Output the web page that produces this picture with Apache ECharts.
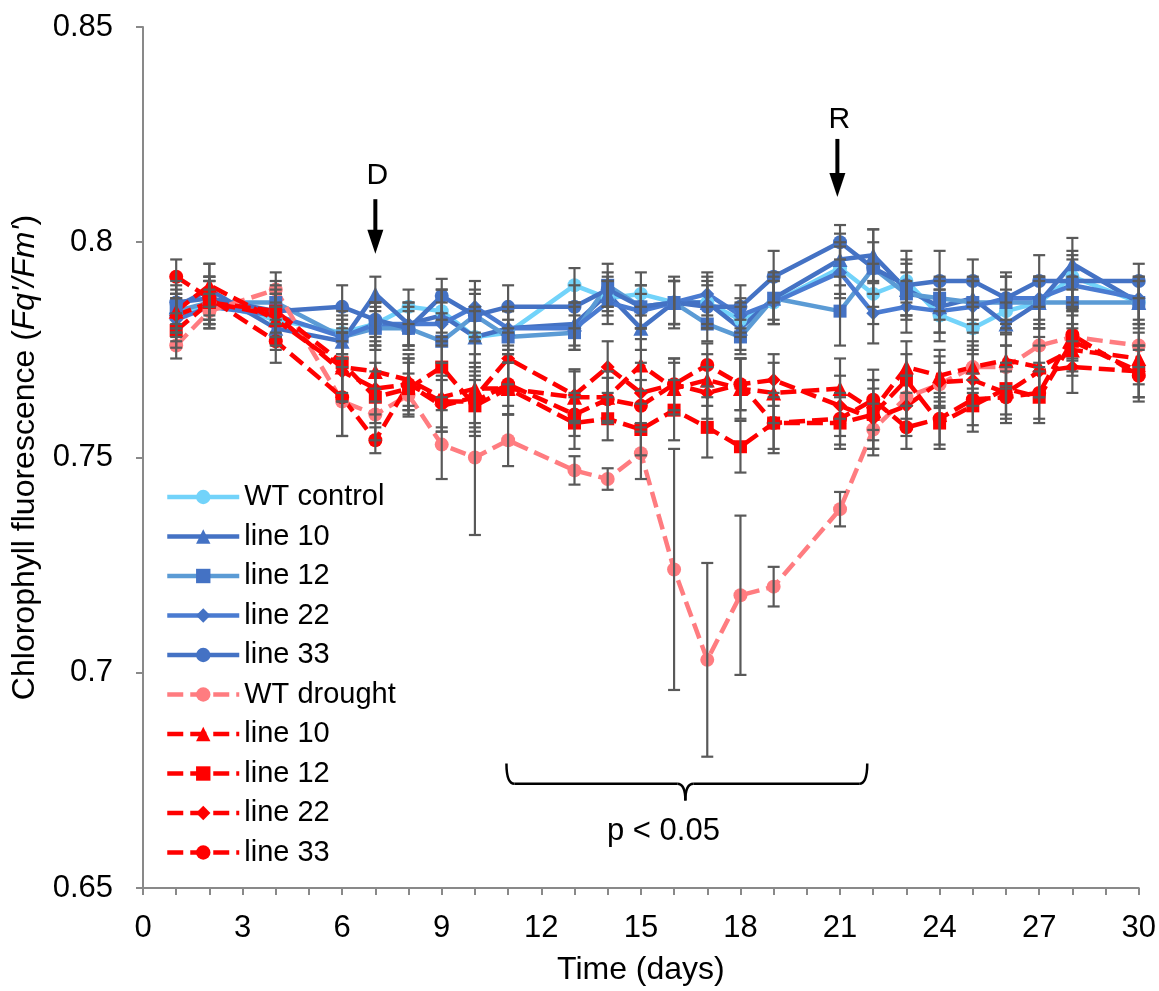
<!DOCTYPE html>
<html>
<head>
<meta charset="utf-8">
<script src="https://cdn.jsdelivr.net/npm/echarts@6/dist/echarts.min.js"></script>
<style>
  html, body { margin: 0; padding: 0; background: #fff; }
  #chart { width: 1159px; height: 991px; }
</style>
</head>
<body>
<div id="chart"></div>
<script>
const days = [1, 2, 4, 6, 7, 8, 9, 10, 11, 13, 14, 15, 16, 17, 18, 19, 21, 22, 23, 24, 25, 26, 27, 28, 30];

// control (solid blue lines)
const wtControl = [0.783, 0.786, 0.782, 0.779, 0.781, 0.785, 0.784, 0.778, 0.779, 0.790, 0.787, 0.788, 0.786, 0.786, 0.782, 0.786, 0.794, 0.788, 0.791, 0.783, 0.780, 0.784, 0.786, 0.792, 0.786];
const c10 = [0.785, 0.789, 0.780, 0.777, 0.788, 0.781, 0.783, 0.778, 0.780, 0.781, 0.788, 0.780, 0.786, 0.786, 0.780, 0.787, 0.796, 0.797, 0.789, 0.785, 0.787, 0.781, 0.786, 0.795, 0.786];
const c12 = [0.784, 0.786, 0.786, 0.778, 0.780, 0.780, 0.777, 0.783, 0.778, 0.779, 0.790, 0.785, 0.786, 0.781, 0.778, 0.787, 0.784, 0.794, 0.788, 0.787, 0.786, 0.786, 0.786, 0.786, 0.786];
const c22 = [0.782, 0.785, 0.783, 0.778, 0.781, 0.781, 0.781, 0.785, 0.780, 0.780, 0.786, 0.784, 0.786, 0.788, 0.783, 0.786, 0.793, 0.7835, 0.785, 0.784, 0.785, 0.787, 0.787, 0.790, 0.787];
const c33 = [0.786, 0.787, 0.784, 0.785, 0.782, 0.780, 0.7875, 0.783, 0.785, 0.785, 0.789, 0.785, 0.786, 0.785, 0.785, 0.792, 0.800, 0.794, 0.790, 0.791, 0.791, 0.787, 0.791, 0.791, 0.791];

// drought (dashed red lines)
const wtDrought = [0.776, 0.784, 0.789, 0.763, 0.760, 0.7645, 0.753, 0.750, 0.754, 0.747, 0.745, 0.751, 0.724, 0.703, 0.718, 0.720, 0.738, 0.7565, 0.764, 0.767, 0.771, 0.771, 0.776, 0.778, 0.776];
const d10 = [0.784, 0.790, 0.782, 0.771, 0.770, 0.768, 0.764, 0.766, 0.766, 0.764, 0.764, 0.7715, 0.766, 0.768, 0.766, 0.765, 0.766, 0.761, 0.771, 0.769, 0.771, 0.7726, 0.771, 0.775, 0.773];
const d12 = [0.7795, 0.786, 0.784, 0.772, 0.764, 0.766, 0.771, 0.762, 0.766, 0.758, 0.759, 0.7565, 0.761, 0.757, 0.7525, 0.758, 0.758, 0.760, 0.768, 0.758, 0.762, 0.766, 0.764, 0.777, 0.770];
const d22 = [0.783, 0.786, 0.783, 0.770, 0.766, 0.767, 0.762, 0.764, 0.773, 0.7645, 0.771, 0.765, 0.767, 0.765, 0.767, 0.768, 0.762, 0.759, 0.762, 0.7675, 0.768, 0.765, 0.770, 0.771, 0.770];
const d33 = [0.792, 0.787, 0.777, 0.764, 0.754, 0.767, 0.763, 0.763, 0.767, 0.760, 0.7635, 0.762, 0.767, 0.7715, 0.767, 0.758, 0.759, 0.7634, 0.757, 0.759, 0.7635, 0.764, 0.765, 0.7785, 0.769];

// error bars (+/-)
const eWTc = [0.004, 0.005, 0.004, 0.005, 0.005, 0.004, 0.005, 0.006, 0.005, 0.004, 0.004, 0.005, 0.005, 0.005, 0.004, 0.005, 0.006, 0.007, 0.005, 0.006, 0.005, 0.005, 0.006, 0.006, 0.005];
const eC10 = [0.005, 0.006, 0.005, 0.004, 0.004, 0.005, 0.006, 0.007, 0.005, 0.005, 0.004, 0.005, 0.006, 0.006, 0.005, 0.006, 0.006, 0.006, 0.006, 0.006, 0.005, 0.005, 0.005, 0.006, 0.005];
const eC12 = [0.004, 0.005, 0.005, 0.005, 0.005, 0.004, 0.005, 0.005, 0.004, 0.004, 0.005, 0.005, 0.005, 0.004, 0.004, 0.005, 0.008, 0.006, 0.005, 0.005, 0.005, 0.006, 0.006, 0.006, 0.006];
const eC22 = [0.005, 0.004, 0.005, 0.004, 0.005, 0.005, 0.005, 0.006, 0.004, 0.005, 0.005, 0.004, 0.005, 0.005, 0.004, 0.005, 0.006, 0.007, 0.006, 0.005, 0.006, 0.005, 0.005, 0.006, 0.005];
const eC33 = [0.005, 0.005, 0.005, 0.005, 0.004, 0.005, 0.004, 0.006, 0.005, 0.005, 0.004, 0.005, 0.005, 0.005, 0.005, 0.006, 0.004, 0.009, 0.008, 0.007, 0.005, 0.006, 0.006, 0.006, 0.004];
const eWTd = [0.003, 0.004, 0.004, 0.008, 0.006, 0.005, 0.008, 0.018, 0.006, 0.0033, 0.0025, 0.006, 0.028, 0.0225, 0.0185, 0.0046, 0.004, 0.006, 0.005, 0.005, 0.005, 0.005, 0.004, 0.005, 0.005];
const eD10 = [0.005, 0.005, 0.006, 0.008, 0.007, 0.006, 0.008, 0.008, 0.006, 0.006, 0.006, 0.006, 0.006, 0.006, 0.007, 0.007, 0.007, 0.007, 0.006, 0.006, 0.006, 0.006, 0.007, 0.006, 0.006];
const eD12 = [0.004, 0.005, 0.006, 0.007, 0.006, 0.006, 0.007, 0.007, 0.006, 0.006, 0.005, 0.006, 0.007, 0.007, 0.006, 0.007, 0.006, 0.008, 0.006, 0.006, 0.006, 0.006, 0.006, 0.007, 0.006];
const eD22 = [0.005, 0.006, 0.005, 0.007, 0.006, 0.006, 0.006, 0.007, 0.006, 0.006, 0.006, 0.007, 0.006, 0.006, 0.006, 0.006, 0.007, 0.007, 0.007, 0.006, 0.006, 0.006, 0.006, 0.006, 0.006];
const eD33 = [0.004, 0.005, 0.005, 0.009, 0.003, 0.006, 0.006, 0.007, 0.005, 0.005, 0.005, 0.006, 0.006, 0.005, 0.006, 0.006, 0.006, 0.007, 0.005, 0.006, 0.006, 0.006, 0.006, 0.006, 0.006];

const FONT = '"Liberation Sans", Arial, sans-serif';
const DASH = [16, 7];

const groups = [
  { name: 'WT control', vals: wtControl, err: eWTc, line: '#72D3FA', mark: '#72D3FA', symbol: 'circle', size: 14, dash: 'solid' },
  { name: 'line 10', vals: c10, err: eC10, line: '#4472C4', mark: '#4472C4', symbol: 'triangle', size: 15, dash: 'solid' },
  { name: 'line 12', vals: c12, err: eC12, line: '#5B9BD5', mark: '#4472C4', symbol: 'rect', size: 13, dash: 'solid' },
  { name: 'line 22', vals: c22, err: eC22, line: '#4A7BD1', mark: '#4472C4', symbol: 'diamond', size: 14, dash: 'solid' },
  { name: 'line 33', vals: c33, err: eC33, line: '#4472C4', mark: '#4472C4', symbol: 'circle', size: 14, dash: 'solid' },
  // trailing spaces keep legend names unique; the formatter trims them
  { name: 'WT drought ', vals: wtDrought, err: eWTd, line: '#FF7C80', mark: '#FF7C80', symbol: 'circle', size: 14, dash: DASH },
  { name: 'line 10 ', vals: d10, err: eD10, line: '#FF0000', mark: '#FF0000', symbol: 'triangle', size: 15, dash: DASH },
  { name: 'line 12 ', vals: d12, err: eD12, line: '#FF0000', mark: '#FF0000', symbol: 'rect', size: 13, dash: DASH },
  { name: 'line 22 ', vals: d22, err: eD22, line: '#FF0000', mark: '#FF0000', symbol: 'diamond', size: 14, dash: DASH },
  { name: 'line 33 ', vals: d33, err: eD33, line: '#FF0000', mark: '#FF0000', symbol: 'circle', size: 14, dash: DASH }
];

function renderErr(params, api) {
  const x = api.value(0);
  const lo = api.coord([x, api.value(1)]);
  const hi = api.coord([x, api.value(2)]);
  const w = 6;
  const st = { stroke: '#595959', lineWidth: 2.2 };
  return {
    type: 'group',
    children: [
      { type: 'line', shape: { x1: hi[0], y1: hi[1], x2: lo[0], y2: lo[1] }, style: st },
      { type: 'line', shape: { x1: hi[0] - w, y1: hi[1], x2: hi[0] + w, y2: hi[1] }, style: st },
      { type: 'line', shape: { x1: lo[0] - w, y1: lo[1], x2: lo[0] + w, y2: lo[1] }, style: st }
    ]
  };
}

const series = [];
groups.forEach(g => {
  series.push({
    name: g.name,
    type: 'line',
    data: days.map((d, i) => [d, g.vals[i]]),
    symbol: g.symbol,
    symbolSize: g.size,
    showAllSymbol: true,
    lineStyle: { color: g.line, width: 4.5, type: g.dash },
    itemStyle: { color: g.mark },
    emphasis: { disabled: true },
    z: 2
  });
});
groups.forEach(g => {
  series.push({
    type: 'custom',
    renderItem: renderErr,
    encode: { x: 0, y: [1, 2] },
    data: days.map((d, i) => [d, g.vals[i] - g.err[i], g.vals[i] + g.err[i]]),
    silent: true,
    z: 3
  });
});

const chart = echarts.init(document.getElementById('chart'));
chart.setOption({
  animation: false,
  backgroundColor: '#fff',
  textStyle: { fontFamily: FONT },
  grid: { left: 143, right: 19, top: 27, bottom: 98, containLabel: false },
  legend: {
    orient: 'vertical',
    left: 165,
    top: 482,
    padding: 0,
    itemWidth: 72,
    itemHeight: 18,
    itemGap: 9.5,
    data: groups.map(g => g.name),
    formatter: n => n.trim(),
    lineStyle: { width: 4.5 },
    textStyle: { fontFamily: FONT, fontSize: 29, color: '#000', lineHeight: 30 },
    selectedMode: false
  },
  xAxis: {
    type: 'value',
    min: 0,
    max: 30,
    interval: 1,
    name: 'Time (days)',
    nameLocation: 'middle',
    nameGap: 66,
    nameTextStyle: { fontFamily: FONT, fontSize: 32, color: '#000' },
    axisLine: { lineStyle: { color: '#898989', width: 2 } },
    axisTick: { show: true, length: 7, lineStyle: { color: '#898989', width: 2 } },
    axisLabel: {
      fontFamily: FONT, fontSize: 31, color: '#000', margin: 25,
      formatter: v => (v % 3 === 0 ? String(v) : '')
    },
    splitLine: { show: false }
  },
  yAxis: {
    type: 'value',
    min: 0.65,
    max: 0.85,
    interval: 0.05,
    name: "{n|Chlorophyll fluorescence (}{i|Fq'/Fm'}{n|)}",
    nameLocation: 'middle',
    nameGap: 102,
    nameTextStyle: {
      fontFamily: FONT, fontSize: 32, color: '#000',
      rich: {
        n: { fontFamily: FONT, fontSize: 32, color: '#000' },
        i: { fontFamily: FONT, fontSize: 32, color: '#000', fontStyle: 'italic' }
      }
    },
    axisLine: { show: true, lineStyle: { color: '#898989', width: 2 } },
    axisTick: { show: true, length: 7, lineStyle: { color: '#898989', width: 2 } },
    axisLabel: {
      fontFamily: FONT, fontSize: 31, color: '#000', margin: 30,
      formatter: v => String(parseFloat(v.toFixed(2)))
    },
    splitLine: { show: false }
  },
  series: series
});

// annotations anchored in data coordinates
const px = p => chart.convertToPixel({ gridIndex: 0 }, p);
const blackLine = { stroke: '#000', lineWidth: 2.5, fill: null };
function arrow(day, top, tip, label, text) {
  const a = px([day, top]);
  const b = px([day, tip]);
  const t = px([day, label]);
  return [
    { type: 'line', shape: { x1: a[0], y1: a[1], x2: b[0], y2: b[1] - 20 }, style: { stroke: '#000', lineWidth: 4 } },
    { type: 'polygon', shape: { points: [[b[0] - 8, b[1] - 24], [b[0] + 8, b[1] - 24], [b[0], b[1]]] }, style: { fill: '#000' } },
    { type: 'text', x: t[0] + 2, y: t[1], style: { text: text, font: '30px ' + FONT, fill: '#000', align: 'center', verticalAlign: 'middle' } }
  ];
}
function brace(x0, x1, xm, yEnd, yMid, yTip) {
  const l = px([x0, yEnd]);
  const r = px([x1, yEnd]);
  const m = px([xm, yMid]);
  const tip = px([xm, yTip])[1];
  const y = m[1];
  const c = (x1a, y1a, cx, cy, x2a, y2a) => ({
    type: 'bezierCurve', shape: { x1: x1a, y1: y1a, cpx1: cx, cpy1: cy, x2: x2a, y2: y2a }, style: blackLine
  });
  return [
    c(l[0], l[1], l[0], y, l[0] + 8, y),
    { type: 'line', shape: { x1: l[0] + 8, y1: y, x2: m[0] - 8, y2: y }, style: blackLine },
    c(m[0] - 8, y, m[0], y, m[0], tip),
    c(m[0], tip, m[0], y, m[0] + 8, y),
    { type: 'line', shape: { x1: m[0] + 8, y1: y, x2: r[0] - 8, y2: y }, style: blackLine },
    c(r[0] - 8, y, r[0], y, r[0], r[1])
  ];
}
const ptxt = px([15.68, 0.6632]);

chart.setOption({
  graphic: [
    ...arrow(7.0, 0.810, 0.7973, 0.8155, 'D'),
    ...arrow(20.92, 0.824, 0.8105, 0.8285, 'R'),
    ...brace(10.95, 21.82, 16.34, 0.6789, 0.6742, 0.6703),
    { type: 'text', x: ptxt[0], y: ptxt[1], style: { text: 'p < 0.05', font: '31px ' + FONT, fill: '#000', align: 'center', verticalAlign: 'middle' } }
  ]
});
</script>
</body>
</html>
